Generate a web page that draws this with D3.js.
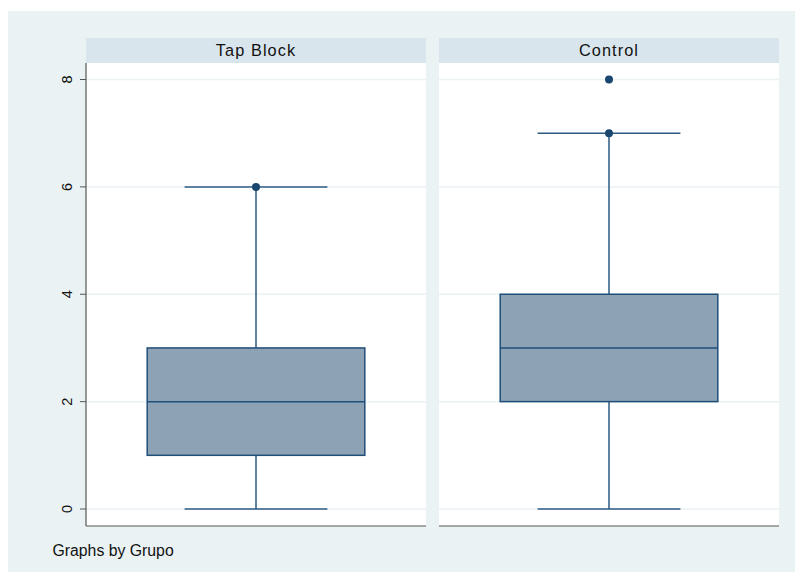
<!DOCTYPE html>
<html><head><meta charset="utf-8">
<script src="https://cdn.jsdelivr.net/npm/d3@7"></script>
<style>body{margin:0;background:#fff}svg{display:block}</style>
</head><body>
<script>
const groups = ["Tap Block", "Control"];
const lowerWhisker = [0, 0];
const q1 = [1, 2];
const median = [2, 3];
const q3 = [3, 4];
const upperWhisker = [6, 7];
const outliers = [[6], [7, 8]];
const yTicks = [0, 2, 4, 6, 8];
const note = "Graphs by Grupo";

const W = 795, H = 572;
const svg = d3.select("body").append("svg").attr("width", W).attr("height", H)
  .style("font-family", "Arial, 'Liberation Sans', sans-serif");

svg.append("rect").attr("x", 8).attr("y", 11).attr("width", W - 8).attr("height", H - 11).attr("fill", "#eaf2f3");

const panels = [{x0: 86, x1: 426}, {x0: 439, x1: 779}];
const stripTop = 38, plotTop = 63, plotBottom = 526;
const y = d3.scaleLinear().domain([0, 8]).range([509, 79.5]);

const boxFill = "#8ea2b6", stroke = "#1f4e79", line = "#2b5a85";

panels.forEach((p, i) => {
  const g = svg.append("g");
  g.append("rect").attr("x", p.x0).attr("y", stripTop).attr("width", p.x1 - p.x0).attr("height", plotTop - stripTop).attr("fill", "#d9e5ec");
  g.append("text").attr("x", (p.x0 + p.x1) / 2).attr("y", 55.5).attr("text-anchor", "middle")
    .attr("font-size", 16.3).attr("letter-spacing", 1.1).attr("fill", "#111").text(groups[i]);
  g.append("rect").attr("x", p.x0).attr("y", plotTop).attr("width", p.x1 - p.x0).attr("height", plotBottom - plotTop).attr("fill", "#fff");
  // gridlines
  g.selectAll("line.grid").data(yTicks).join("line")
    .attr("x1", p.x0).attr("x2", p.x1).attr("y1", d => y(d)).attr("y2", d => y(d))
    .attr("stroke", "#eaf2f3").attr("stroke-width", 1.5);

  const cx = (p.x0 + p.x1) / 2;
  const x = d3.scaleLinear().domain([-1, 1]).range([p.x0, p.x1]);
  const bw = 0.64, cw = 0.42;
  // whiskers
  g.append("line").attr("x1", cx).attr("x2", cx).attr("y1", y(q3[i])).attr("y2", y(upperWhisker[i])).attr("stroke", line).attr("stroke-width", 1.5);
  g.append("line").attr("x1", cx).attr("x2", cx).attr("y1", y(q1[i])).attr("y2", y(lowerWhisker[i])).attr("stroke", line).attr("stroke-width", 1.5);
  g.append("line").attr("x1", x(-cw)).attr("x2", x(cw)).attr("y1", y(upperWhisker[i])).attr("y2", y(upperWhisker[i])).attr("stroke", line).attr("stroke-width", 1.5);
  g.append("line").attr("x1", x(-cw)).attr("x2", x(cw)).attr("y1", y(lowerWhisker[i])).attr("y2", y(lowerWhisker[i])).attr("stroke", line).attr("stroke-width", 1.5);
  // box
  g.append("rect").attr("x", x(-bw)).attr("width", x(bw) - x(-bw)).attr("y", y(q3[i])).attr("height", y(q1[i]) - y(q3[i]))
    .attr("fill", boxFill).attr("stroke", stroke).attr("stroke-width", 1.5);
  g.append("line").attr("x1", x(-bw)).attr("x2", x(bw)).attr("y1", y(median[i])).attr("y2", y(median[i])).attr("stroke", stroke).attr("stroke-width", 1.5);
  // outliers
  g.selectAll("circle").data(outliers[i]).join("circle")
    .attr("cx", cx).attr("cy", d => y(d)).attr("r", 4).attr("fill", "#1a476f");
  // bottom axis line
  g.append("line").attr("x1", p.x0).attr("x2", p.x1).attr("y1", plotBottom).attr("y2", plotBottom).attr("stroke", "#555").attr("stroke-width", 1.2);
});

// left y axis
const ax = svg.append("g").attr("transform", "translate(86,0)");
ax.append("line").attr("x1", 0).attr("x2", 0).attr("y1", plotTop).attr("y2", plotBottom).attr("stroke", "#555").attr("stroke-width", 1.2);
ax.selectAll("line.tick").data(yTicks).join("line").attr("class", "tick")
  .attr("x1", -6).attr("x2", 0).attr("y1", d => y(d)).attr("y2", d => y(d)).attr("stroke", "#555").attr("stroke-width", 1);
ax.selectAll("text").data(yTicks).join("text")
  .attr("transform", d => `translate(-14.5,${y(d)}) rotate(-90)`)
  .attr("text-anchor", "middle").attr("font-size", 14.5).attr("fill", "#111").text(d => d);

svg.append("text").attr("x", 52.5).attr("y", 555.7).attr("font-size", 15.8).attr("fill", "#111").text(note);
</script>
</body></html>
